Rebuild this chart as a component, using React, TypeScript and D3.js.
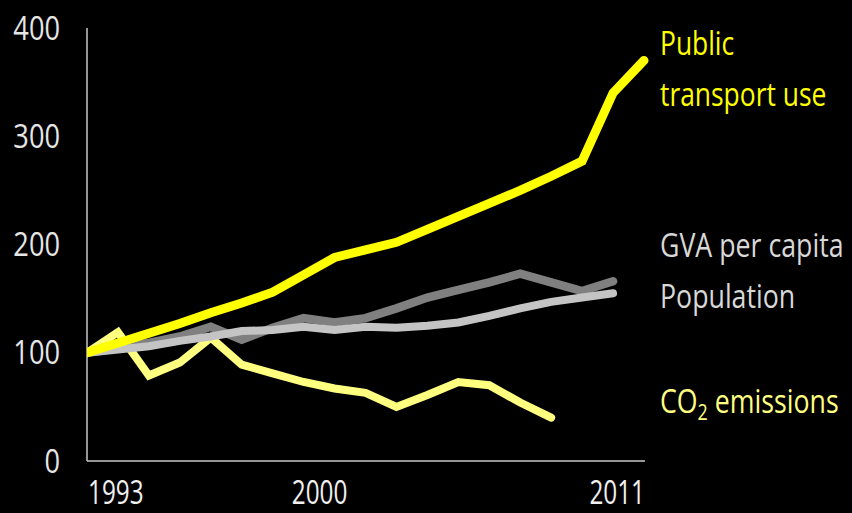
import React from "react";
import * as d3 from "d3";

const years = [1993, 1994, 1995, 1996, 1997, 1998, 1999, 2000, 2001, 2002, 2003, 2004, 2005, 2006, 2007, 2008, 2009, 2010, 2011];
const publicTransport = [100, 109, 118, 127, 137, 146, 156, 172, 188, 195, 202, 214, 226, 238, 250, 263, 277, 340, 370];
const gvaPerCapita = [100, 104, 109, 115, 124, 112, 123, 132, 128, 132, 141, 151, 158, 165, 173, 165, 157, 166];
const population = [100, 103, 106, 111, 115, 120, 121, 124, 121, 124, 123, 125, 128, 134, 141, 147, 151, 155];
const co2Emissions = [100, 119, 79, 91, 114, 89, 81, 73, 67, 63, 50, 61, 73, 70, 54, 40];
const yTicks = [0, 100, 200, 300, 400];
const xTickYears = [1993, 2000, 2011];

const W = 852;
const H = 513;
const FONT = "'Open Sans', 'Noto Sans', sans-serif";

export default function App() {
  const x = d3.scaleLinear().domain([1993, 2011]).range([87, 644]);
  const y = d3.scaleLinear().domain([0, 400]).range([461, 28]);
  const line = d3
    .line<number>()
    .x((_, i) => x(years[i]))
    .y((d) => y(d));

  const series = [
    { values: co2Emissions, color: "#ffff80", width: 8 },
    { values: gvaPerCapita, color: "#808080", width: 8.5 },
    { values: population, color: "#c4c4c4", width: 8 },
    { values: publicTransport, color: "#ffff00", width: 9 },
  ];

  const xAnchor = (i: number) =>
    i === 0 ? "start" : i === xTickYears.length - 1 ? "end" : "middle";
  const xOffset = (i: number) => (i === 0 ? 1 : i === xTickYears.length - 1 ? 1 : 16);

  return (
    <svg
      width={W}
      height={H}
      style={{ position: "absolute", left: 0, top: 0, display: "block", background: "#000" }}
    >
      <rect x={0} y={0} width={W} height={H} fill="#000" />
      <defs>
        <clipPath id="plotclip">
          <rect x={x(1993)} y={0} width={W - x(1993)} height={H} />
        </clipPath>
      </defs>
      {/* axes */}
      <line x1={x(1993)} x2={x(1993)} y1={y(400)} y2={y(0)} stroke="#c8c8c8" strokeWidth={1.5} />
      <line x1={x(1993)} x2={x(2011) + 1} y1={y(0)} y2={y(0)} stroke="#c8c8c8" strokeWidth={1.5} />
      {/* y tick labels */}
      {yTicks.map((t) => (
        <text
          key={t}
          transform={`translate(60,${y(t) + 11.5}) scale(0.85,1)`}
          textAnchor="end"
          fontFamily={FONT}
          fontSize={32}
          fill="#e6e6e6"
        >
          {t}
        </text>
      ))}
      {/* x tick labels */}
      {xTickYears.map((yr, i) => (
        <text
          key={yr}
          transform={`translate(${x(yr) + xOffset(i)},${504}) scale(0.76,1)`}
          textAnchor={xAnchor(i)}
          fontFamily={FONT}
          fontSize={32}
          fill="#f0f0f0"
        >
          {yr}
        </text>
      ))}
      {/* lines */}
      <g clipPath="url(#plotclip)">
        {series.map((s, i) => (
          <path
            key={i}
            d={line(s.values) || ""}
            fill="none"
            stroke={s.color}
            strokeWidth={s.width}
            strokeLinecap="round"
            strokeLinejoin="miter"
          />
        ))}
      </g>
      {/* labels */}
      <g fontFamily={FONT} fontSize={33}>
        <text transform="translate(660,55) scale(0.8,1)" fill="#ffff00">Public</text>
        <text transform="translate(660,106) scale(0.8,1)" fill="#ffff00">transport use</text>
        <text transform="translate(660,257) scale(0.81,1)" fill="#d8d8d8">GVA per capita</text>
        <text transform="translate(660,308) scale(0.81,1)" fill="#d8d8d8">Population</text>
        <text transform="translate(660,413) scale(0.81,1)" fill="#ffff80">
          CO
          <tspan fontSize={22} dy={7}>2</tspan>
          <tspan dy={-7}> emissions</tspan>
        </text>
      </g>
    </svg>
  );
}
